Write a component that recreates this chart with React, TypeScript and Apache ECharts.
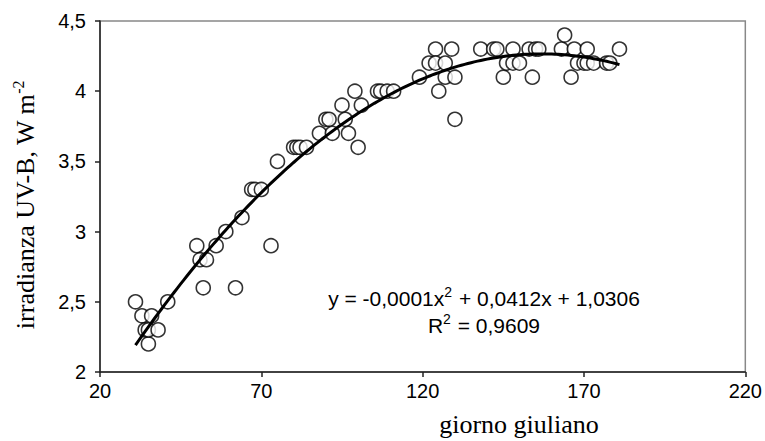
import React, { useEffect, useRef } from "react";
import * as echarts from "echarts";

const julianDay = [
  31, 33, 34, 35, 35, 36, 38, 41,
  50, 51, 52, 53, 56, 59, 62, 64, 67, 68, 70, 73, 75,
  80, 81, 82, 84,
  88, 90, 91, 92, 95, 96, 97, 99, 100, 101,
  106, 107, 109, 111,
  119, 122, 124, 124, 125, 127, 127, 129, 130, 130,
  138, 142, 143, 145, 146, 148, 148, 150,
  153, 154, 155, 156,
  163, 164, 166, 167, 168, 170, 171, 171, 173, 177, 178, 181,
];
const irradiance = [
  2.5, 2.4, 2.3, 2.2, 2.3, 2.4, 2.3, 2.5,
  2.9, 2.8, 2.6, 2.8, 2.9, 3.0, 2.6, 3.1, 3.3, 3.3, 3.3, 2.9, 3.5,
  3.6, 3.6, 3.6, 3.6,
  3.7, 3.8, 3.8, 3.7, 3.9, 3.8, 3.7, 4.0, 3.6, 3.9,
  4.0, 4.0, 4.0, 4.0,
  4.1, 4.2, 4.3, 4.2, 4.0, 4.1, 4.2, 4.3, 4.1, 3.8,
  4.3, 4.3, 4.3, 4.1, 4.2, 4.2, 4.3, 4.2,
  4.3, 4.1, 4.3, 4.3,
  4.3, 4.4, 4.1, 4.3, 4.2, 4.2, 4.3, 4.2, 4.2, 4.2, 4.2, 4.3,
];
const xTicks = [20, 70, 120, 170, 220];
const yTicks = [2, 2.5, 3, 3.5, 4, 4.5];
const equationText = ["y = -0,0001x", "2", " + 0,0412x + 1,0306"];
const r2Text = ["R", "2", " = 0,9609"];
const xTitle = "giorno giuliano";
const yTitle = ["irradianza UV-B, W m", "-2"];

// least-squares quadratic fit of the data (the chart's polynomial trend line)
function quadFit(xs: number[], ys: number[]) {
  let s0 = 0, s1 = 0, s2 = 0, s3 = 0, s4 = 0, t0 = 0, t1 = 0, t2 = 0;
  for (let i = 0; i < xs.length; i++) {
    const x = xs[i], y = ys[i];
    s0 += 1; s1 += x; s2 += x * x; s3 += x * x * x; s4 += x * x * x * x;
    t0 += y; t1 += x * y; t2 += x * x * y;
  }
  const M = [
    [s4, s3, s2, t2],
    [s3, s2, s1, t1],
    [s2, s1, s0, t0],
  ];
  for (let c = 0; c < 3; c++) {
    for (let r = c + 1; r < 3; r++) {
      const f = M[r][c] / M[c][c];
      for (let k = c; k < 4; k++) M[r][k] -= f * M[c][k];
    }
  }
  const sol = [0, 0, 0];
  for (let r = 2; r >= 0; r--) {
    let v = M[r][3];
    for (let k = r + 1; k < 3; k++) v -= M[r][k] * sol[k];
    sol[r] = v / M[r][r];
  }
  return sol; // a, b, c
}

export default function App() {
  const ref = useRef<HTMLDivElement>(null);
  useEffect(() => {
    if (!ref.current) return;
    const chart = echarts.init(ref.current, undefined, { renderer: "svg" });
    const [a, b, c] = quadFit(julianDay, irradiance);
    const xMin = Math.min(...julianDay);
    const xMax = Math.max(...julianDay);
    const trend: number[][] = [];
    for (let x = xMin; x <= xMax; x += 1) trend.push([x, a * x * x + b * x + c]);
    const points = julianDay.map((d, i) => [d, irradiance[i]]);
    const fmt = (v: number) => String(v).replace(".", ",");
    const sans = "'Liberation Sans', Arial, sans-serif";
    const serif = "'Liberation Serif', 'Times New Roman', serif";

    chart.setOption({
      animation: false,
      backgroundColor: "#fff",
      grid: {
        left: 100,
        right: 18,
        top: 21,
        bottom: 69,
        show: true,
        borderColor: "#888",
        borderWidth: 1.5,
      },
      xAxis: {
        type: "value",
        min: xTicks[0],
        max: xTicks[xTicks.length - 1],
        interval: xTicks[1] - xTicks[0],
        axisLine: { show: true, onZero: false, lineStyle: { color: "#222", width: 1.5 } },
        axisTick: { show: true, length: 5, lineStyle: { color: "#222", width: 1.5 } },
        splitLine: { show: false },
        axisLabel: { color: "#000", fontFamily: sans, fontSize: 20, margin: 9 },
      },
      yAxis: {
        type: "value",
        min: yTicks[0],
        max: yTicks[yTicks.length - 1],
        interval: yTicks[1] - yTicks[0],
        axisLine: { show: true, onZero: false, lineStyle: { color: "#222", width: 1.5 } },
        axisTick: { show: true, length: 5, lineStyle: { color: "#222", width: 1.5 } },
        splitLine: { show: false },
        axisLabel: { color: "#000", fontFamily: sans, fontSize: 20, margin: 14, formatter: fmt },
      },
      series: [
        {
          type: "scatter",
          data: points,
          symbol: "circle",
          symbolSize: 14,
          itemStyle: { color: "#fff", borderColor: "#000", borderWidth: 1.6 },
          z: 2,
        },
        {
          type: "line",
          data: trend,
          showSymbol: false,
          symbol: "none",
          smooth: false,
          lineStyle: { color: "#000", width: 3 },
          z: 3,
        },
      ],
      graphic: [
        {
          type: "text",
          x: 484,
          y: 312,
          style: {
            text:
              `{n|${equationText[0]}}{s|${equationText[1]}}{n|${equationText[2]}}\n` +
              `{n|${r2Text[0]}}{s|${r2Text[1]}}{n|${r2Text[2]}}`,
            textAlign: "center",
            textVerticalAlign: "middle",
            align: "center",
            verticalAlign: "middle",
            fill: "#000",
            rich: {
              n: { fontFamily: sans, fontSize: 21, lineHeight: 27, fill: "#000" },
              s: { fontFamily: sans, fontSize: 14, lineHeight: 27, verticalAlign: "top", padding: [0, 1, 0, 0], fill: "#000" },
            },
          },
        },
        {
          type: "text",
          x: 519,
          y: 424,
          style: {
            text: xTitle,
            fontFamily: serif,
            fontSize: 26,
            fill: "#000",
            textAlign: "center",
            textVerticalAlign: "middle",
            align: "center",
            verticalAlign: "middle",
          },
        },
        {
          type: "text",
          x: 25,
          y: 205,
          rotation: Math.PI / 2,
          style: {
            text: `{t|${yTitle[0]}}{s|${yTitle[1]}}`,
            textAlign: "center",
            textVerticalAlign: "middle",
            align: "center",
            verticalAlign: "middle",
            fill: "#000",
            rich: {
              t: { fontFamily: serif, fontSize: 26, lineHeight: 30, fill: "#000" },
              s: { fontFamily: serif, fontSize: 16, lineHeight: 30, verticalAlign: "top", fill: "#000" },
            },
          },
        },
      ],
    });
    return () => chart.dispose();
  }, []);
  return (
    <div
      ref={ref}
      style={{ position: "fixed", left: 0, top: 0, width: 765, height: 441, background: "#fff" }}
    />
  );
}
